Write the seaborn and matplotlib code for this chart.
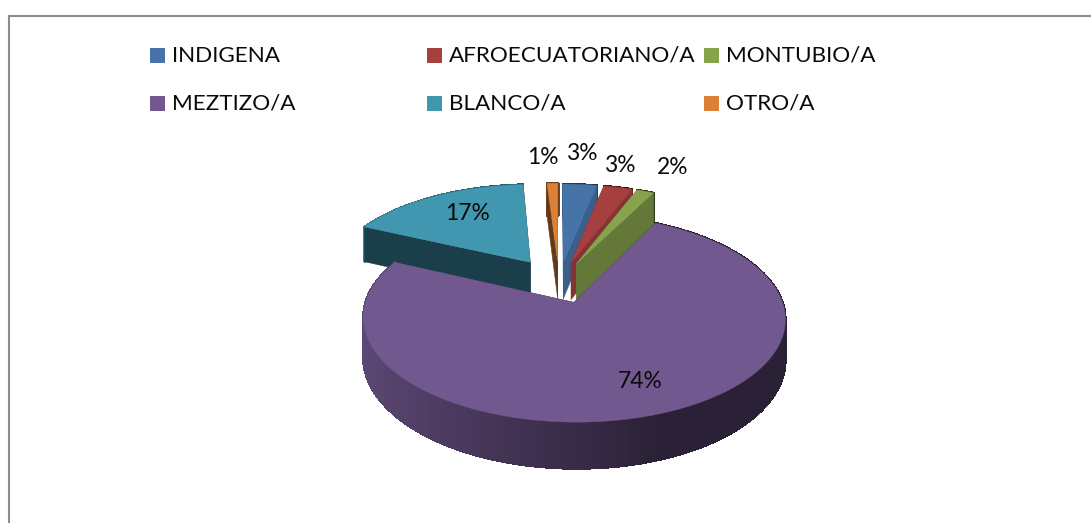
import numpy as np
import matplotlib
matplotlib.use('Agg')
import matplotlib.pyplot as plt
import seaborn as sns
from matplotlib.collections import PolyCollection
from matplotlib.patches import Rectangle

# Datos del grafico
categorias = ['INDIGENA', 'AFROECUATORIANO/A', 'MONTUBIO/A', 'MEZTIZO/A', 'BLANCO/A', 'OTRO/A']
porcentajes = [3.2, 2.7, 1.6, 74.4, 17.1, 1.0]
colores = ['#4674A8', '#A5403F', '#87A44D', '#71588F', '#4197AF', '#DA8137']

# Estilo y vista del pastel 3D
separacion = [0.22, 0.22, 0.22, 0.22, 0.26, 0.23]
sombra_corte = [0.82, 0.80, 0.74, 0.60, 0.42, 0.45]
orden_dibujo = [4, 5, 0, 1, 2, 3]
pos_etiquetas = [(583, 153), (621, 165), (673, 168), (640, 382), (467, 213), (543, 157)]
CX, CY, R, S, P, T = 559, 282, 202, 95, 0.15, 38
FUENTE = 'Lato'

sns.set_theme(style='white')
plt.rcParams['font.family'] = [FUENTE, 'DejaVu Sans']

fig = plt.figure(figsize=(10.91, 5.23), dpi=100)
ax = fig.add_axes([0, 0, 1, 1])

# El pie calcula los angulos y la separacion de cada porcion
wedges, _ = ax.pie(porcentajes, colors=colores, startangle=90, counterclock=False,
                   explode=separacion)
ax.set_aspect('auto')
ax.set_xlim(0, 1091)
ax.set_ylim(523, 0)
ax.axis('off')


def proyectar(x, y, caida=0.0):
    w = 1 + P * y
    return np.column_stack([CX + R * x / w, CY - S * y / w + T * caida / w])


def sombra_arco(x):
    return np.clip(0.85 - (x + 1) * 0.47 / 1.4, 0.38, 0.85)


def oscurecer(color, f):
    return tuple(np.array(matplotlib.colors.to_rgb(color)) * f)


for i in orden_dibujo:
    wd = wedges[i]
    t = np.radians(np.linspace(wd.theta1, wd.theta2, 240))
    ax_x = wd.center[0] + wd.r * np.cos(t)
    ax_y = wd.center[1] + wd.r * np.sin(t)
    apex = np.array(wd.center)

    # Paredes del borde exterior
    arriba = proyectar(ax_x, ax_y)
    abajo = proyectar(ax_x, ax_y, 1)
    quads = [[arriba[k], arriba[k + 1], abajo[k + 1], abajo[k]] for k in range(len(t) - 1)]
    caras = [oscurecer(colores[i], sombra_arco(ax_x[k])) for k in range(len(t) - 1)]
    ax.add_collection(PolyCollection(quads, facecolors=caras, edgecolors=caras, linewidths=1.0,
                                     antialiaseds=False, zorder=2))

    # Cortes radiales
    ap_a = proyectar(apex[0:1], apex[1:2])[0]
    ap_b = proyectar(apex[0:1], apex[1:2], 1)[0]
    for k in (0, -1):
        cara = [ap_a, arriba[k], abajo[k], ap_b]
        ax.fill(*zip(*cara), color=oscurecer(colores[i], sombra_corte[i]), lw=0.4, zorder=2)

    # Cara superior
    tapa = np.vstack([ap_a, arriba])
    ax.fill(tapa[:, 0], tapa[:, 1], color=colores[i], lw=0.3, zorder=2)
    wd.remove()

# Etiquetas de porcentaje
for v, (px, py) in zip(porcentajes, pos_etiquetas):
    ax.text(px, py, f'{v:.0f}%', ha='center', va='center', fontsize=16.4, color='#0a0a0a', zorder=5)

# Leyenda en dos filas
cols_x = [150, 427, 704]
filas_y = [55, 103]
for n, nombre in enumerate(categorias):
    lx = cols_x[n % 3]
    ly = filas_y[n // 3]
    ax.add_patch(Rectangle((lx, ly - 7.5), 15, 15, color=colores[n], lw=0, zorder=5))
    ax.text(lx + 22, ly + 1, nombre, ha='left', va='center', fontsize=16.2, color='#0a0a0a', zorder=5)

# Marco gris abierto por la derecha y abajo
ax.plot([8.5, 8.5, 1091], [523, 15.5, 15.5], color='#8c8c8c', lw=1.5, solid_joinstyle='miter', zorder=1)

fig.savefig('out.png', dpi=100, facecolor='white')
